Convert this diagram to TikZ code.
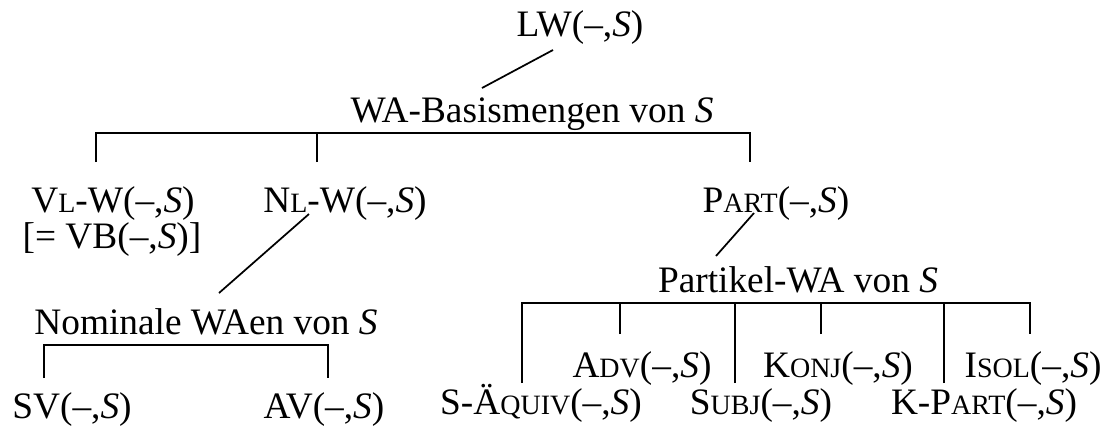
\documentclass[tikz,border=0pt]{standalone}
\usepackage{fontspec}
\setmainfont{Liberation Serif}
\newcommand\ksc[1]{{\fontsize{21}{25}\selectfont #1}}
\newcommand\Sv{\textit{S}}
\begin{document}
\begin{tikzpicture}
[x=0.75pt,y=-0.75pt,
 label text/.style={anchor=base,inner sep=0pt,font=\fontsize{28}{33.6}\selectfont},
 tree line/.style={line width=1.3pt}]
\useasboundingbox (0,0) rectangle (1108,430);
% top levels
\node[label text] (lw) at (580,36) {LW(--,\Sv)};
\node[label text] (wab) at (532,122) {WA-Basismengen von \Sv};
\node[label text] (vlw) at (113,212) {V\ksc{L}-W(--,\Sv)};
\node[label text] (vb) at (112,248) {[= VB(--,\Sv)]};
\node[label text] (nlw) at (345,212) {N\ksc{L}-W(--,\Sv)};
\node[label text] (part) at (776,212) {P\ksc{ART}(--,\Sv)};
% nominal branch
\node[label text] (nom) at (206,334) {Nominale WAen von \Sv};
\node[label text] (sv) at (72,418) {SV(--,\Sv)};
\node[label text] (av) at (324,418) {AV(--,\Sv)};
% particle branch
\node[label text] (pwa) at (798,292) {Partikel-WA von \Sv};
\node[label text] (adv) at (642,377) {A\ksc{DV}(--,\Sv)};
\node[label text] (konj) at (838,377) {K\ksc{ONJ}(--,\Sv)};
\node[label text] (isol) at (1033,377) {I\ksc{SOL}(--,\Sv)};
\node[label text] (saeq) at (541,414) {S-Ä\ksc{QUIV}(--,\Sv)};
\node[label text] (subj) at (761,414) {S\ksc{UBJ}(--,\Sv)};
\node[label text] (kpart) at (984,414) {K-P\ksc{ART}(--,\Sv)};
% bar heights and drop ends
\coordinate (top-bar) at ([shift={(0,11)}]wab.base);
\coordinate (nom-bar) at ([shift={(0,11)}]nom.base);
\coordinate (pwa-bar) at ([shift={(0,11)}]pwa.base);
\foreach \kid/\dx/\dy in {vlw/-17/-50,nlw/-28/-50,part/-26/-50,sv/-28/-40,av/4/-40,
  saeq/-19/-31,adv/-22/-43,subj/-26/-31,konj/-17/-43,kpart/-40/-31,isol/-3/-43}
  \coordinate (\kid-drop) at ([shift={(\dx,\dy)}]\kid.base);
% slanted lines
\draw[tree line] ([shift={(-27,14)}]lw.base) -- ([shift={(-50,-34)}]wab.base);
\draw[tree line] ([shift={(-36,2)}]nlw.base) -- ([shift={(13,-41)}]nom.base);
\draw[tree line] ([shift={(-22,1)}]part.base) -- ([shift={(-82,-36)}]pwa.base);
% brackets
\draw[tree line] (vlw-drop) |- (top-bar) -| (part-drop);
\draw[tree line] (nlw-drop) -- (nlw-drop |- top-bar);
\draw[tree line] (sv-drop) |- (nom-bar) -| (av-drop);
\draw[tree line] (saeq-drop) |- (pwa-bar) -| (isol-drop);
\foreach \kid in {adv,subj,konj,kpart}
  \draw[tree line] (\kid-drop) -- (\kid-drop |- pwa-bar);
\end{tikzpicture}
\end{document}
